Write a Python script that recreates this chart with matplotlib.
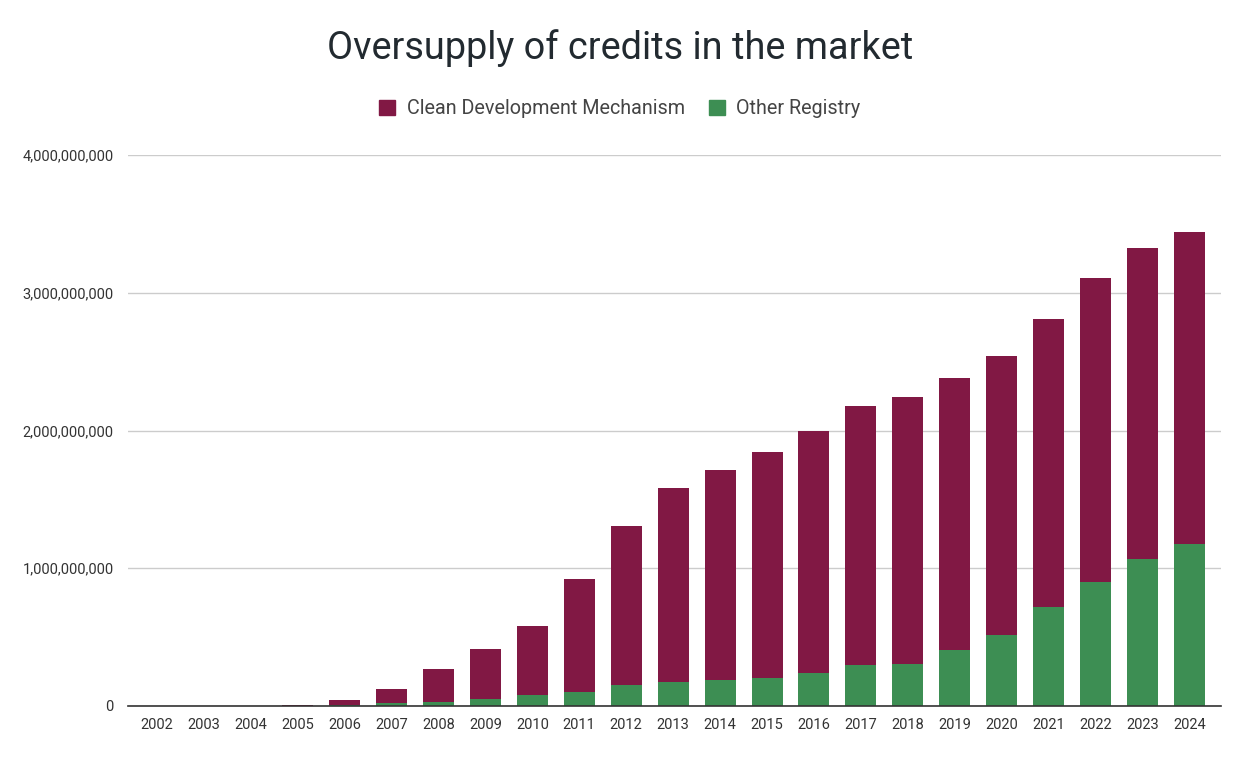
import matplotlib
matplotlib.use("Agg")
import matplotlib.pyplot as plt
from matplotlib.ticker import FuncFormatter, MultipleLocator
from matplotlib.patches import Patch

years = [str(y) for y in range(2002, 2025)]
other_registry = [0, 0, 0, 2e6, 6e6, 20e6, 30e6, 50e6, 80e6, 100e6, 150e6, 170e6,
                  190e6, 205e6, 240e6, 300e6, 305e6, 405e6, 515e6, 720e6, 900e6,
                  1065e6, 1175e6]
totals = [0, 0, 0, 3e6, 40e6, 125e6, 270e6, 415e6, 580e6, 920e6, 1305e6, 1585e6,
          1715e6, 1845e6, 2000e6, 2175e6, 2245e6, 2380e6, 2545e6, 2810e6, 3105e6,
          3325e6, 3440e6]
cdm = [t - o for t, o in zip(totals, other_registry)]

plt.rcParams['font.family'] = ['Roboto', 'DejaVu Sans']
CDM_C = '#811844'
OTH_C = '#3d8e53'
TXT = '#333333'

fig = plt.figure(figsize=(12.4, 7.8), dpi=100)
ax = fig.add_axes([0.103, 0.095, 0.882, 0.706])
x = list(range(len(years)))
ax.bar(x, other_registry, width=0.66, color=OTH_C, zorder=3)
ax.bar(x, cdm, width=0.66, bottom=other_registry, color=CDM_C, zorder=3)

ax.set_xlim(-0.62, len(years) - 1 + 0.68)
ax.set_ylim(0, 4e9)
ax.yaxis.set_major_locator(MultipleLocator(1e9))
ax.yaxis.set_major_formatter(FuncFormatter(lambda v, p: f"{int(v):,}"))
ax.set_xticks(x)
ax.set_xticklabels(years)
ax.grid(axis='y', color='#cccccc', linewidth=1, zorder=0)
for s in ['top', 'right', 'left']:
    ax.spines[s].set_visible(False)
ax.spines['bottom'].set_color('#333333')
ax.spines['bottom'].set_linewidth(1.2)
ax.spines['bottom'].set_zorder(4)
ax.tick_params(axis='both', length=0, labelsize=10.5, colors=TXT, pad=9)
ax.tick_params(axis='y', pad=10)

fig.text(0.5, 0.938, 'Oversupply of credits in the market', ha='center', va='center',
         fontsize=27.3, color='#222a30')
handles = [Patch(color=CDM_C, label='Clean Development Mechanism'),
           Patch(color=OTH_C, label='Other Registry')]
fig.legend(handles=handles, loc='center', bbox_to_anchor=(0.5, 0.861), ncol=2,
           frameon=False, fontsize=14.2, labelcolor='#444444', handlelength=0.8,
           handleheight=0.8, handletextpad=0.6, columnspacing=1.2)

fig.savefig('out.png', dpi=100)
